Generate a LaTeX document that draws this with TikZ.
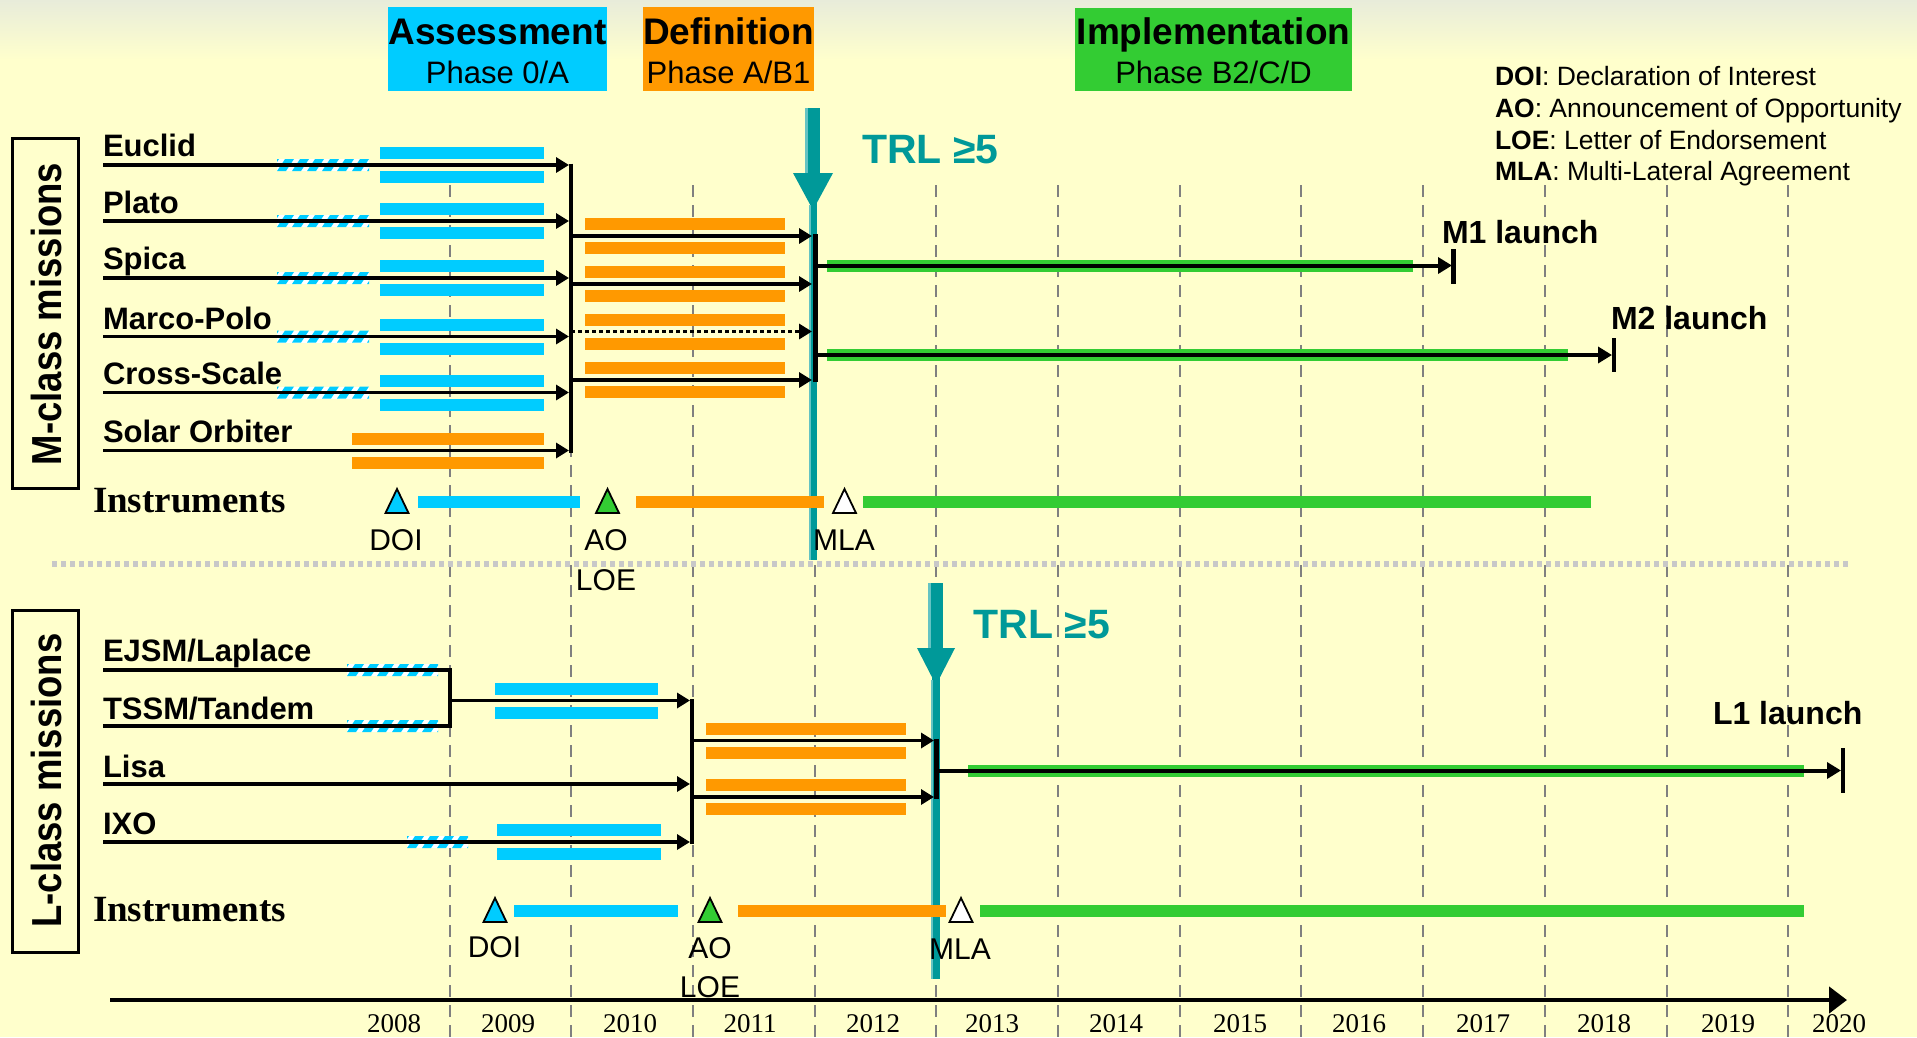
\documentclass[tikz,border=0pt]{standalone}
\usepackage{graphicx}
\usepackage{fontspec}
\setmainfont{Liberation Sans}
\newfontfamily\tnr{Liberation Serif}
\usetikzlibrary{arrows.meta}
\definecolor{bgY}{RGB}{255,255,204}
\definecolor{bgTop}{RGB}{232,236,218}
\definecolor{cyanC}{RGB}{0,204,255}
\definecolor{orangeC}{RGB}{255,153,0}
\definecolor{greenC}{RGB}{51,204,51}
\definecolor{tealC}{RGB}{0,153,153}
\definecolor{tealL}{RGB}{100,195,195}
\definecolor{gridC}{RGB}{128,128,128}
\definecolor{sepC}{RGB}{200,200,200}
\newcommand\fs[1]{\fontsize{#1}{#1}\selectfont}
\newcommand\twobars[4]{\fill[#4] (#1,#3-18) rectangle (#2,#3-6); \fill[#4] (#1,#3+6) rectangle (#2,#3+18);}
\newcommand\hatchseg[3]{%
  \begin{scope}
    \clip (#1,#3-6) rectangle (#2,#3+6);
    \fill[white] (#1,#3-6) rectangle (#2,#3+6);
    \foreach \s in {-15,0,...,105}{\fill[cyanC] ({#1+\s},#3+6) -- ++(9,0) -- ++(8,-12) -- ++(-9,0) -- cycle;}
  \end{scope}}
\newcommand\tri[3]{\filldraw[fill=#3,draw=black,line width=1.8pt,line join=miter] (#1-11.5,#2) -- (#1+11.5,#2) -- (#1,#2-24) -- cycle;}
\tikzset{
  every node/.style={inner sep=0pt,outer sep=0pt},
  mline/.style={line width=3.5pt,black},
  marr/.style={mline,-{Triangle[length=13pt,width=15pt]}},
  iarr/.style={line width=4pt,black,-{Triangle[length=14pt,width=16pt]}},
  joinline/.style={line width=4.5pt,black},
  endbar/.style={line width=4.5pt,black},
  gridline/.style={gridC,line width=2pt,dash pattern=on 12pt off 8pt},
  misslabel/.style={anchor=base west,font=\bfseries\fs{31}},
  launchlabel/.style={anchor=base west,font=\bfseries\fs{32}},
  instlabel/.style={anchor=base west,font=\tnr\bfseries\fs{37}},
  milelabel/.style={anchor=base,font=\fs{30}},
  legendtext/.style={anchor=base west,font=\fs{26.5}},
  yearlabel/.style={anchor=base,font=\tnr\fs{27}},
  trltext/.style={anchor=base west,font=\bfseries\fs{41},text=tealC},
  phasetitle/.style={anchor=base,font=\bfseries\fs{37}},
  phasesub/.style={anchor=base,font=\fs{31}},
  classlabel/.style={rotate=90,anchor=base,font=\bfseries\fs{36.5}}
}
\begin{document}
\begin{tikzpicture}[x=1pt,y=-1pt]
\useasboundingbox (0,0) rectangle (1917,1037);
\fill[bgY] (0,0) rectangle (1917,1037);
\shade[top color=bgTop,bottom color=bgY] (0,0) rectangle (1917,60);

% phase boxes
\fill[cyanC] (388,7) rectangle (607,91);
\fill[orangeC] (643,7) rectangle (814,91);
\fill[greenC] (1075,8) rectangle (1352,91);
\node[phasetitle] (pA) at (497.5,44) {Assessment};
\node[phasesub] (pAs) at (497.5,83) {Phase 0/A};
\node[phasetitle] (pD) at (728.5,44) {Definition};
\node[phasesub] (pDs) at (728.5,83) {Phase A/B1};
\node[phasetitle] (pI) at (1213.5,44) {Implementation};
\node[phasesub] (pIs) at (1213.5,83) {Phase B2/C/D};

% legend
\node[legendtext] (lg1) at (1495,85) {\textbf{DOI}: Declaration of Interest};
\node[legendtext] (lg2) at (1495,117) {\textbf{AO}: Announcement of Opportunity};
\node[legendtext] (lg3) at (1495,149) {\textbf{LOE}: Letter of Endorsement};
\node[legendtext] (lg4) at (1495,180) {\textbf{MLA}: Multi-Lateral Agreement};

% grid
\foreach \k in {0,...,11}{\draw[gridline] ({449.5+121.7*\k},185) -- ({449.5+121.7*\k},1037);}
% separator
\draw[sepC,line width=6pt,dash pattern=on 5pt off 4pt] (52,563.5) -- (1848,563.5);

% class boxes
\draw[line width=3pt] (12,138) rectangle (78,488);
\draw[line width=3pt] (12,610) rectangle (78,952);
\node[classlabel] (mclass) at (61,314) {\scalebox{1}[1.15]{M-class missions}};
\node[classlabel] (lclass) at (61,780.5) {\scalebox{1}[1.15]{L-class missions}};

% TRL arrows (teal)
\fill[tealC] (807,108) rectangle (820,176);
\fill[tealL] (805,108) rectangle (808,174);
\fill[tealC] (793,173) -- (833,173) -- (813,210) -- cycle;
\fill[tealC] (810,200) rectangle (817,560);
\fill[tealL] (809,205) rectangle (811,560);
\fill[tealC] (930,583) rectangle (943,650);
\fill[tealL] (928,583) rectangle (931,648);
\fill[tealC] (917,648) -- (955,648) -- (936,685) -- cycle;
\fill[tealC] (932,675) rectangle (940,979);
\fill[tealL] (931,680) rectangle (933,979);
\node[trltext] (trlM) at (862,163) {TRL ≥5};
\node[trltext] (trlL) at (973.5,638) {TRL ≥5};

% ---------- M-class ----------
\foreach \y in {165,221,278,336.5,392.5}{\twobars{380}{544}{\y}{cyanC}}
\twobars{352}{544}{450.5}{orangeC}
\foreach \y in {236,284,331.5,380}{\twobars{585}{785}{\y}{orangeC}}
\fill[greenC] (827,259.5) rectangle (1413,271.5);
\fill[greenC] (827,349) rectangle (1568,361);

\foreach \n/\y in {eu/165,pl/221,sp/278,mp/336.5,cs/392.5}{\hatchseg{277}{369}{\y}}
\foreach \n/\y in {eu/165,pl/221,sp/278,mp/336.5,cs/392.5,so/450.5}{
  \coordinate (\n-s) at (103,\y);
  \coordinate (\n-e) at (569,\y);
  \draw[marr] (\n-s) -- (\n-e);
}
\coordinate (mjA) at (571,163.5);
\coordinate (mjB) at (571,452.5);
\draw[joinline] (mjA) -- (mjB);
\foreach \n/\y in {d1/236,d2/284,d4/380}{
  \coordinate (\n-s) at (571,\y);
  \coordinate (\n-e) at (812,\y);
  \draw[marr] (\n-s) -- (\n-e);
}
\coordinate (d3-s) at (571,331.5);
\coordinate (d3-e) at (812,331.5);
\draw[marr,dash pattern=on 4pt off 3pt] (d3-s) -- (d3-e);
\coordinate (mdA) at (815,234);
\coordinate (mdB) at (815,382);
\draw[line width=5pt] (mdA) -- (mdB);
\coordinate (m1-s) at (815,265.5);
\coordinate (m1-e) at (1452,265.5);
\draw[iarr] (m1-s) -- (m1-e);
\coordinate (m1a) at (1453.5,249);
\coordinate (m1b) at (1453.5,284);
\draw[endbar] (m1a) -- (m1b);
\coordinate (m2-s) at (815,355);
\coordinate (m2-e) at (1612,355);
\draw[iarr] (m2-s) -- (m2-e);
\coordinate (m2a) at (1614,338);
\coordinate (m2b) at (1614,372);
\draw[endbar] (m2a) -- (m2b);

\node[misslabel] (tEu) at (103,156) {Euclid};
\node[misslabel] (tPl) at (103,213.5) {Plato};
\node[misslabel] (tSp) at (103,269) {Spica};
\node[misslabel] (tMp) at (103,329) {Marco-Polo};
\node[misslabel] (tCs) at (103,384) {Cross-Scale};
\node[misslabel] (tSo) at (103,442.5) {Solar Orbiter};
\node[launchlabel] (tM1) at (1442,243.5) {M1 launch};
\node[launchlabel] (tM2) at (1611,329) {M2 launch};

% M instruments
\fill[cyanC] (418,496) rectangle (580,508);
\fill[orangeC] (636,496) rectangle (824,508);
\fill[greenC] (863,496) rectangle (1591,508);
\tri{397}{513}{cyanC}
\tri{607.5}{513}{greenC}
\tri{844.5}{513}{white}
\node[instlabel] (tInM) at (93,512) {Instruments};
\node[milelabel] (mDOI) at (396,550) {DOI};
\node[milelabel] (mAO) at (606,550) {AO};
\node[milelabel] (mLOE) at (606,590) {LOE};
\node[milelabel] (mMLA) at (844,550) {MLA};

% ---------- L-class ----------
\twobars{495}{658}{700.5}{cyanC}
\twobars{497}{661}{842}{cyanC}
\twobars{706}{906}{740.5}{orangeC}
\twobars{706}{906}{797}{orangeC}
\fill[greenC] (968,765) rectangle (1804,777);

\hatchseg{347}{438}{670}
\hatchseg{347}{438}{726}
\hatchseg{407}{468}{842}
\coordinate (ej-s) at (103,670);
\coordinate (ts-s) at (103,726);
\coordinate (etA) at (450,670);
\coordinate (etB) at (450,726);
\draw[mline,line join=miter] (ej-s) -- (etA) -- (etB) -- (ts-s);
\coordinate (et-s) at (450,700.5);
\coordinate (et-e) at (690,700.5);
\draw[marr] (et-s) -- (et-e);
\coordinate (li-s) at (103,784);
\coordinate (li-e) at (690,784);
\draw[marr] (li-s) -- (li-e);
\coordinate (ix-s) at (103,842);
\coordinate (ix-e) at (690,842);
\draw[marr] (ix-s) -- (ix-e);
\coordinate (ljA) at (692,699);
\coordinate (ljB) at (692,843.5);
\draw[joinline] (ljA) -- (ljB);
\coordinate (ld1-s) at (692,740.5);
\coordinate (ld1-e) at (934,740.5);
\draw[marr] (ld1-s) -- (ld1-e);
\coordinate (ld2-s) at (692,797);
\coordinate (ld2-e) at (934,797);
\draw[marr] (ld2-s) -- (ld2-e);
\coordinate (ldA) at (936.5,738.5);
\coordinate (ldB) at (936.5,799);
\draw[line width=5pt] (ldA) -- (ldB);
\coordinate (l1-s) at (936.5,770.5);
\coordinate (l1-e) at (1841,770.5);
\draw[iarr] (l1-s) -- (l1-e);
\coordinate (l1a) at (1843,748);
\coordinate (l1b) at (1843,793);
\draw[endbar] (l1a) -- (l1b);

\node[misslabel] (tEj) at (103,661) {EJSM/Laplace};
\node[misslabel] (tTs) at (103,719) {TSSM/Tandem};
\node[misslabel] (tLi) at (103,777) {Lisa};
\node[misslabel] (tIx) at (103,834) {IXO};
\node[launchlabel] (tL1) at (1713,724) {L1 launch};

% L instruments
\fill[cyanC] (514,905) rectangle (678,917);
\fill[orangeC] (738,905) rectangle (946,917);
\fill[greenC] (980,905) rectangle (1804,917);
\tri{495}{922}{cyanC}
\tri{710}{922}{greenC}
\tri{961}{922}{white}
\node[instlabel] (tInL) at (93,921) {Instruments};
\node[milelabel] (lDOI) at (494.5,957) {DOI};
\node[milelabel] (lAO) at (710,958) {AO};
\node[milelabel] (lLOE) at (710,997) {LOE};
\node[milelabel] (lMLA) at (960,959) {MLA};

% time axis
\coordinate (ax-s) at (110,1000);
\coordinate (ax-e) at (1847,1000);
\draw[line width=4.5pt,-{Triangle[length=18pt,width=26pt]}] (ax-s) -- (ax-e);
\foreach \yr/\x in {2008/394,2009/508,2010/630,2011/750,2012/873,2013/992,2014/1116,2015/1240,2016/1359,2017/1483,2018/1604,2019/1728,2020/1839}{
  \node[yearlabel] (yr\yr) at (\x,1032) {\yr};
}
\end{tikzpicture}
\end{document}
